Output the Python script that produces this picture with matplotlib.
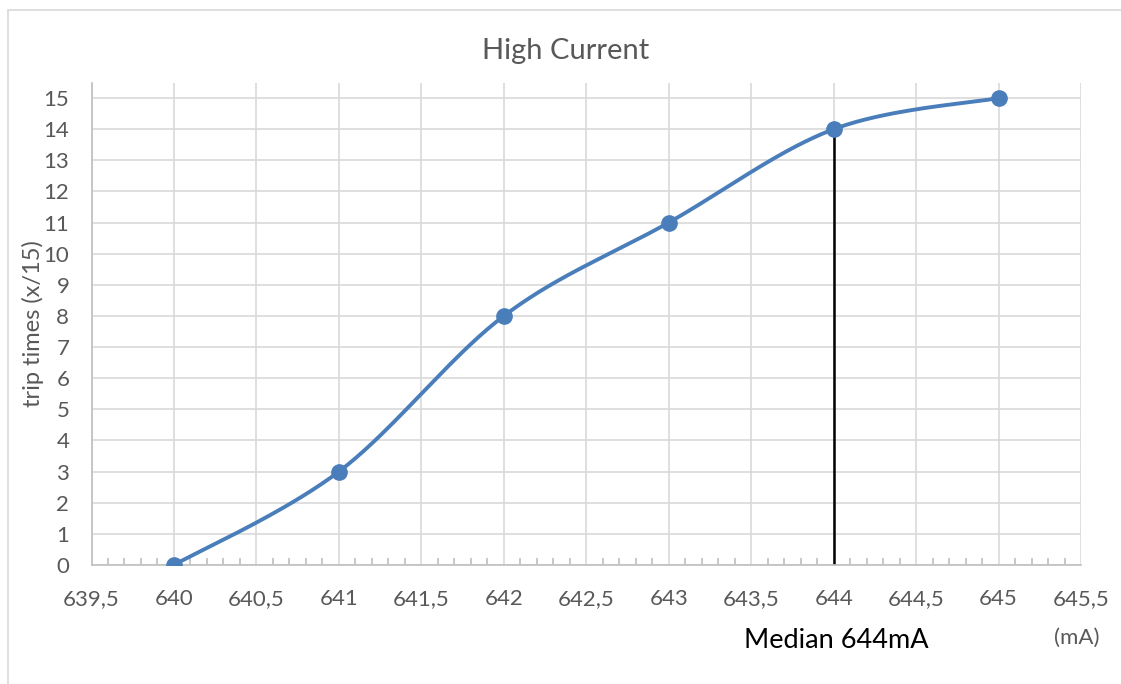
import numpy as np
import matplotlib
matplotlib.use("Agg")
import matplotlib.pyplot as plt
from matplotlib.patches import Rectangle
from matplotlib.ticker import MultipleLocator, FuncFormatter

# trip counts (out of 15) per test current
current_ma = [640, 641, 642, 643, 644, 645]
trips = [0, 3, 8, 11, 14, 15]
median_ma = 644
median_trips = 14

plt.rcParams['font.family'] = ['Lato', 'DejaVu Sans']
grey = '#595959'
blue = '#4a7ebb'


def smooth(x, y, n=40):
    # Catmull-Rom style bezier, like a spreadsheet "smoothed line"
    x = np.asarray(x, float)
    y = np.asarray(y, float)
    px = np.concatenate([[x[0]], x, [x[-1]]])
    py = np.concatenate([[y[0]], y, [y[-1]]])
    xs, ys = [], []
    t = np.linspace(0, 1, n)
    for i in range(1, len(px) - 2):
        p0 = np.array([px[i], py[i]])
        p3 = np.array([px[i + 1], py[i + 1]])
        c1 = p0 + (np.array([px[i + 1], py[i + 1]]) - np.array([px[i - 1], py[i - 1]])) / 6
        c2 = p3 - (np.array([px[i + 2], py[i + 2]]) - np.array([px[i], py[i]])) / 6
        b = ((1 - t) ** 3)[:, None] * p0 + (3 * (1 - t) ** 2 * t)[:, None] * c1 \
            + (3 * (1 - t) * t ** 2)[:, None] * c2 + (t ** 3)[:, None] * p3
        xs.extend(b[:, 0])
        ys.extend(b[:, 1])
    return np.array(xs), np.array(ys)


fig = plt.figure(figsize=(11.21, 6.84), dpi=100)
ax = fig.add_axes([91.5 / 1121, (684 - 565) / 684, (1081 - 91.5) / 1121, (565 - 82.5) / 684])

# chart frame
fig.patches.append(Rectangle((8 / 1121, -0.1), 1.2, (684 - 10) / 684 + 0.1,
                             transform=fig.transFigure, fill=False,
                             edgecolor='#d9d9d9', linewidth=1.2))

sx, sy = smooth(current_ma, trips)
ax.plot(sx, sy, color=blue, linewidth=2.8, zorder=3, solid_capstyle='round')
ax.plot(current_ma, trips, 'o', color=blue, markersize=11, zorder=4)
ax.plot([median_ma, median_ma], [0, median_trips], color='black', linewidth=1.8, zorder=2)

ax.set_xlim(639.5, 645.5)
ax.set_ylim(0, 15.5)
ax.xaxis.set_major_locator(MultipleLocator(0.5))
ax.xaxis.set_minor_locator(MultipleLocator(0.1))
ax.set_yticks(range(0, 16))
ax.xaxis.set_major_formatter(FuncFormatter(lambda v, p: ('%g' % v).replace('.', ',')))

ax.grid(True, which='major', color='#d9d9d9', linewidth=1.2, zorder=0)
ax.set_axisbelow(True)
for s in ['top', 'right']:
    ax.spines[s].set_visible(False)
for s in ['left', 'bottom']:
    ax.spines[s].set_color('#bfbfbf')
    ax.spines[s].set_linewidth(1.2)

ax.tick_params(axis='both', which='major', length=0, labelsize=16, labelcolor=grey)
ax.tick_params(axis='x', which='major', pad=17)
ax.tick_params(axis='y', which='major', pad=16)
ax.tick_params(axis='x', which='minor', direction='in', length=5, color='#bfbfbf', width=1.2)

ax.set_ylabel('trip times (x/15)', fontsize=17, color=grey, labelpad=0)
fig.text(566 / 1121, 1 - 51 / 684, 'High Current', fontsize=21, color=grey, ha='center', va='center')
fig.text(836 / 1121, 1 - 640 / 684, 'Median 644mA', fontsize=19.5, color='black', ha='center', va='center')
fig.text(1077 / 1121, 1 - 638 / 684, '(mA)', fontsize=16, color=grey, ha='center', va='center')

fig.savefig('out.png', dpi=100)
